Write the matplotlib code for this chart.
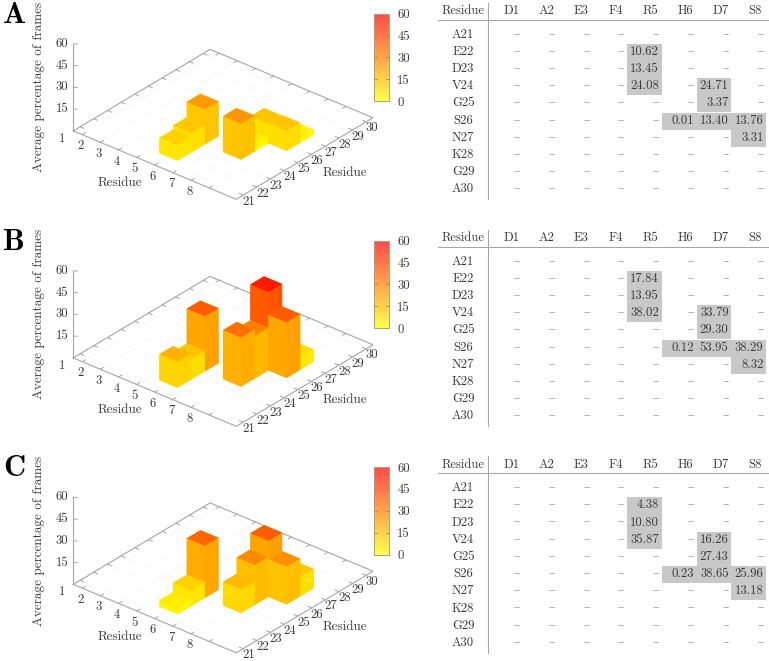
import matplotlib
matplotlib.use('Agg')
import matplotlib.pyplot as plt
from matplotlib.colors import LinearSegmentedColormap, Normalize
from matplotlib.cm import ScalarMappable
from matplotlib.patches import Rectangle
from mpl_toolkits.mplot3d import proj3d

W, H = 769, 661
plt.rcParams['font.family'] = ['cmr10', 'DejaVu Serif']
plt.rcParams['axes.unicode_minus'] = False
plt.rcParams['axes.formatter.use_mathtext'] = True

# Residues of the two chains
col_labels = ['D1', 'A2', 'E3', 'F4', 'R5', 'H6', 'D7', 'S8']
row_labels = ['A21', 'E22', 'D23', 'V24', 'G25', 'S26', 'N27', 'K28', 'G29', 'A30']

# Filled cells, same order for all panels
cell_cols = ['R5', 'R5', 'R5', 'D7', 'D7', 'H6', 'D7', 'S8', 'S8']
cell_rows = ['E22', 'D23', 'V24', 'V24', 'G25', 'S26', 'S26', 'S26', 'N27']
values_a = [10.62, 13.45, 24.08, 24.71, 3.37, 0.01, 13.40, 13.76, 3.31]
values_b = [17.84, 13.95, 38.02, 33.79, 29.30, 0.12, 53.95, 38.29, 8.32]
values_c = [4.38, 10.80, 35.87, 16.26, 27.43, 0.23, 38.65, 25.96, 13.18]

panel_names = ['A', 'B', 'C']
panel_values = [values_a, values_b, values_c]
panel_shift = [0, 227, 453.5]

x_ticks = [1, 2, 3, 4, 5, 6, 7, 8]
y_ticks = [21, 22, 23, 24, 25, 26, 27, 28, 29, 30]
z_ticks = [15, 30, 45, 60]
cb_ticks = [0, 15, 30, 45, 60]

TEXT = '#3a3a3a'
EDGE = '#a6a6a6'
FS = 9.1
FS_LABEL = 9.5

bar_cmap = LinearSegmentedColormap.from_list('bars', ['#ffff00', '#ff0000'])
cb_cmap = LinearSegmentedColormap.from_list('cb', ['#ffff4a', '#ff4a4a'])
norm = Normalize(0, 60)


def px_box(left, top, width, height):
    # pixel box (y down) to figure fractions
    return [left / W, 1 - (top + height) / H, width / W, height / H]


def side_value(h, extra):
    # side faces of the bars are coloured a bit above half height
    return h * (0.55 + (0.17 if h > 45 else 0) + extra)


def text3d(ax, x, y, z, label, ha='center'):
    # project by hand so the label stays a plain 2D text
    px, py, _ = proj3d.proj_transform(x, y, z, ax.get_proj())
    ax.text2D(px, py, label, transform=ax.transData, color=TEXT, fontsize=FS,
              ha=ha, va='center', zorder=50)


fig = plt.figure(figsize=(W / 100, H / 100), dpi=100)


def draw_bars(dy, values):
    ax = fig.add_axes(px_box(65, -69 + dy, 308, 308), projection='3d', computed_zorder=False)
    ax.patch.set_alpha(0)
    ax.set_proj_type('ortho')
    ax.view_init(elev=30, azim=-50)
    ax.set_box_aspect((1, 1, 0.472), zoom=1.0)
    ax.set_axis_off()
    ax.set_xlim(0.5, 9.5)
    ax.set_ylim(20.5, 30.5)
    ax.set_zlim(0, 60)

    # floor grid
    for t in x_ticks:
        ax.plot([t, t], [20.5, 30.5], [0, 0], color='#f8f8f8', lw=0.6, zorder=1)
    for t in y_ticks:
        ax.plot([0.5, 9.5], [t, t], [0, 0], color='#f8f8f8', lw=0.6, zorder=1)

    # floor border and z axis
    ax.plot([0.5, 0.5, 9.5, 9.5, 0.5], [20.5, 30.5, 30.5, 20.5, 20.5], [0] * 5, color=EDGE, lw=0.8, zorder=2)
    ax.plot([0.5, 0.5], [20.5, 20.5], [0, 60], color=EDGE, lw=0.8, zorder=2)
    for t in x_ticks:
        ax.plot([t, t], [20.5, 20.72], [0, 0], color=EDGE, lw=0.7, zorder=2)
        ax.plot([t, t], [30.5, 30.28], [0, 0], color=EDGE, lw=0.7, zorder=2)
        text3d(ax, t - 0.43, 20.5 - 0.89, 0, str(t))
    for t in y_ticks:
        ax.plot([9.5, 9.3], [t, t], [0, 0], color=EDGE, lw=0.7, zorder=2)
        ax.plot([0.5, 0.7], [t, t], [0, 0], color=EDGE, lw=0.7, zorder=2)
        text3d(ax, 9.5 + 0.535, t - 0.307, 0, str(t))
    for t in z_ticks:
        ax.plot([0.5, 0.63], [20.5, 20.62], [t, t], color=EDGE, lw=0.7, zorder=2)
        text3d(ax, 0.5 - 0.16, 20.5 - 0.15, t, str(t), ha='right')

    # bars, back to front
    cells = []
    for c, r, v in zip(cell_cols, cell_rows, values):
        cells.append((col_labels.index(c) + 1, row_labels.index(r) + 21, v))
    cells.sort(key=lambda cell: (cell[0], -cell[1]))
    for n, (x, y, v) in enumerate(cells):
        top = bar_cmap(norm(v))
        left = bar_cmap(norm(side_value(v, 0)))
        right = bar_cmap(norm(side_value(v, 0.03)))
        # faces: -z, +z, -y, +y, -x, +x
        colors = [left, top, left, right, right, right]
        ax.bar3d(x - 0.5, y - 0.5, 0, 1, 1, v, color=colors, shade=False, edgecolor='none', zorder=10 + n)


def draw_colorbar(dy):
    cax = fig.add_axes(px_box(374, 13.5 + dy, 15, 87.5))
    cb = fig.colorbar(ScalarMappable(norm=norm, cmap=cb_cmap), cax=cax, ticks=cb_ticks)
    cb.ax.set_yticklabels([str(t) for t in cb_ticks])
    cb.outline.set_edgecolor('#aaa27a')
    cb.outline.set_linewidth(0.7)
    cax.tick_params(axis='y', direction='in', left=True, right=True, length=2.5, width=0.6,
                    color='#a07a40', labelsize=FS, labelcolor=TEXT, pad=6)


def draw_table(dy, values):
    # x in column units, y in row units
    tab = fig.add_axes(px_box(438, dy, 330.5, 205))
    tab.set_xlim((438 - 487.8) / 34.8, (768.5 - 487.8) / 34.8)
    tab.set_ylim((205 - 26.5) / 17.2, -26.5 / 17.2)
    tab.axis('off')

    tab.axhline(-0.38, color=EDGE, lw=0.8)
    tab.plot([0, 0], [-1.37, 10.03], color=EDGE, lw=0.8)

    tab.text(-0.71, -0.9, 'Residue', color=TEXT, fontsize=FS, ha='center', va='center')
    for i, name in enumerate(col_labels):
        tab.text(i + 0.68, -0.9, name, color=TEXT, fontsize=FS, ha='center', va='center')
    for r, name in enumerate(row_labels):
        tab.text(-0.71, r + 0.47, name, color=TEXT, fontsize=FS, ha='center', va='center')

    filled = {}
    for c, r, v in zip(cell_cols, cell_rows, values):
        filled[(row_labels.index(r), col_labels.index(c))] = v
    for r in range(len(row_labels)):
        for i in range(len(col_labels)):
            if (r, i) in filled:
                tab.add_patch(Rectangle((i, r), 1, 1, facecolor='#c8c8c8', edgecolor='none', zorder=1))
                label = '%.2f' % filled[(r, i)]
                color = TEXT
            else:
                label = '\u2013'
                color = '#999999'
            tab.text(i + 0.92, r + 0.47, label, color=color, fontsize=FS, ha='right', va='center', zorder=2)


for name, values, dy in zip(panel_names, panel_values, panel_shift):
    draw_bars(dy, values)
    draw_colorbar(dy)
    draw_table(dy, values)
    fig.text(120 / W, 1 - (183 + dy) / H, 'Residue', color=TEXT, fontsize=FS_LABEL, ha='center', va='center')
    fig.text(345 / W, 1 - (173 + dy) / H, 'Residue', color=TEXT, fontsize=FS_LABEL, ha='center', va='center')
    fig.text(39 / W, 1 - (87 + dy) / H, 'Average percentage of frames', color=TEXT, fontsize=FS_LABEL,
             rotation=90, ha='center', va='center')
    fig.text(14 / W, 1 - (15.5 + dy) / H, name, family=['cmb10', 'DejaVu Serif'], fontsize=22,
             color='black', ha='center', va='center')

fig.savefig('out.png', dpi=100)
